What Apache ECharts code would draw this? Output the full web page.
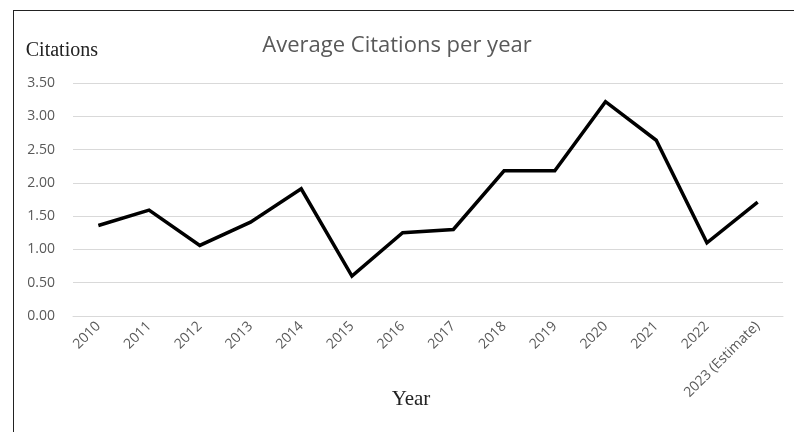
<!DOCTYPE html>
<html>
<head>
<meta charset="utf-8">
<script src="https://cdn.jsdelivr.net/npm/echarts@6/dist/echarts.min.js"></script>
<style>
  html, body { margin: 0; padding: 0; background: #fff; }
  #chart { width: 794px; height: 432px; position: relative; }
  .frame { position: absolute; left: 13px; top: 10px; width: 800px; height: 440px;
           border-left: 1px solid #222; border-top: 1px solid #222; pointer-events: none; }
</style>
</head>
<body>
<div id="chart"></div>
<div class="frame"></div>
<script>
  // data
  var years = ['2010', '2011', '2012', '2013', '2014', '2015', '2016', '2017',
    '2018', '2019', '2020', '2021', '2022', '2023 (Estimate)'];
  var citations = [1.36, 1.59, 1.06, 1.41, 1.91, 0.60, 1.25, 1.30, 2.18, 2.18, 3.22, 2.64, 1.10, 1.71];
  var yTicks = { min: 0, max: 3.5, interval: 0.5 };

  var chart = echarts.init(document.getElementById('chart'));
  chart.setOption({
    animation: false,
    title: {
      text: 'Average Citations per year',
      left: 'center',
      top: 30,
      textStyle: {
        fontFamily: 'Open Sans',
        fontSize: 22,
        fontWeight: 'normal',
        color: '#595959'
      }
    },
    grid: {
      left: 73,
      right: 11,
      top: 83,
      bottom: 116
    },
    xAxis: {
      type: 'category',
      data: years,
      boundaryGap: true,
      name: 'Year',
      nameLocation: 'middle',
      nameGap: 73,
      nameMoveOverlap: false,
      nameTextStyle: {
        fontFamily: 'Liberation Serif',
        fontSize: 21,
        color: '#222',
        padding: [0, 34, 0, 0]
      },
      axisLine: { show: true, lineStyle: { color: '#d9d9d9' } },
      axisTick: { show: false },
      axisLabel: {
        rotate: 45,
        interval: 0,
        margin: 8,
        fontFamily: 'Open Sans',
        fontSize: 14,
        color: '#595959'
      }
    },
    yAxis: {
      type: 'value',
      min: yTicks.min,
      max: yTicks.max,
      interval: yTicks.interval,
      name: 'Citations',
      nameLocation: 'end',
      nameGap: 22,
      nameTextStyle: {
        fontFamily: 'Liberation Serif',
        fontSize: 20,
        color: '#222',
        align: 'right',
        padding: [0, -25, 0, 0]
      },
      axisLine: { show: false },
      axisTick: { show: false },
      splitLine: { lineStyle: { color: '#d9d9d9', width: 1 } },
      axisLabel: {
        margin: 18,
        fontFamily: 'Open Sans',
        fontSize: 14,
        color: '#595959',
        formatter: function (v) { return v.toFixed(2); }
      }
    },
    series: [{
      type: 'line',
      data: citations,
      showSymbol: false,
      symbol: 'none',
      lineStyle: { color: '#000', width: 3.5, join: 'miter' }
    }]
  });
</script>
</body>
</html>
